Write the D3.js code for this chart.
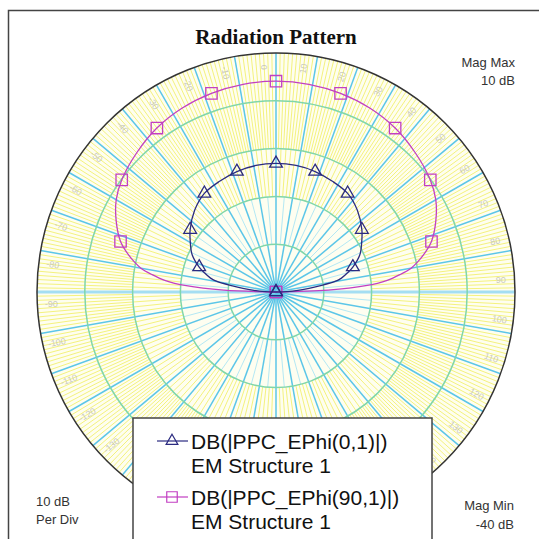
<!DOCTYPE html>
<html>
<head>
<meta charset="utf-8">
<script src="https://cdn.jsdelivr.net/npm/d3@7"></script>
<style>
  html, body { margin: 0; padding: 0; background: #fff; }
  svg { display: block; }
</style>
</head>
<body>
<svg id="chart" width="539" height="539"></svg>
<script>
// Polar radiation pattern, 10 dB per division, -40 dB .. 10 dB
const magMin = -40;
const magMax = 10;
const magStep = 10;

// Sample angles (degrees, 0 = broadside, clockwise positive)
const angles = [-90, -88, -86, -84, -82, -80, -78, -75, -72, -66, -60, -54, -45, -36, -27, -18, -9,
                0, 9, 18, 27, 36, 45, 54, 60, 66, 72, 75, 78, 80, 82, 84, 86, 88, 90];

// DB(|PPC_EPhi(0,1)|)
const ephi0 = [-40, -37.7, -35.4, -33.3, -30.8, -27.6, -26.0, -24.5, -23.1, -20.8, -19.3, -17.8, -15.9, -14.5, -14.0, -13.5, -13.2,
               -13.1, -13.2, -13.5, -14.0, -14.5, -15.9, -17.8, -19.3, -20.8, -23.1, -24.5, -26.0, -27.6, -30.8, -33.3, -35.4, -37.7, -40];

// DB(|PPC_EPhi(90,1)|)
const ephi90 = [-40, -29.1, -21.2, -16.6, -13.8, -11.3, -9.7, -7.6, -5.8, -3.4, -1.4, -0.1, 1.2, 2.4, 3.2, 3.7, 4.0,
                4.1, 4.0, 3.7, 3.2, 2.4, 1.2, -0.1, -1.4, -3.4, -5.8, -7.6, -9.7, -11.3, -13.8, -16.6, -21.2, -29.1, -40];

const markerStep = 18;
const seriesNames = ["DB(|PPC_EPhi(0,1)|)", "DB(|PPC_EPhi(90,1)|)"];
const seriesSource = "EM Structure 1";

const svg = d3.select("#chart");
const W = 539, H = 539;
const cx = 276, cy = 292, R = 239;

const rScale = d3.scaleLinear().domain([magMin, magMax]).range([0, R]);
const rad = d => d * Math.PI / 180;

// outer frame
svg.append("path")
  .attr("d", `M8.5,${H} L8.5,10.5 L${W},10.5`)
  .attr("fill", "none").attr("stroke", "#444").attr("stroke-width", 1.5);

const g = svg.append("g").attr("transform", `translate(${cx},${cy})`);

// face of the polar grid
g.append("circle").attr("r", R).attr("fill", "#fefef0");

// fine radial lines, density per ring
const rings = d3.range(magMin + magStep, magMax + 0.001, magStep);
const ringStep = { "-30": 10, "-20": 5, "-10": 2, "0": 1, "10": 1 };
rings.forEach(m => {
  const step = ringStep[String(m)];
  if (step >= 10) return;
  const r0 = rScale(m - magStep), r1 = rScale(m);
  const angs = d3.range(-180, 180, step).filter(a => a % 10 !== 0);
  const col = step >= 5 ? "#b4e8f4" : "#f4f27e";
  g.append("g").selectAll("line").data(angs).join("line")
    .attr("x1", a => r0 * Math.sin(rad(a))).attr("y1", a => -r0 * Math.cos(rad(a)))
    .attr("x2", a => r1 * Math.sin(rad(a))).attr("y2", a => -r1 * Math.cos(rad(a)))
    .attr("stroke", col).attr("stroke-width", 1);
});

// major radial lines every 10 degrees
const majors = d3.range(-180, 180, 10);
const isAxis = a => a === 90 || a === -90;
g.append("g").selectAll("line").data(majors).join("line")
  .attr("x1", 0).attr("y1", 0)
  .attr("x2", a => R * Math.sin(rad(a))).attr("y2", a => -R * Math.cos(rad(a)))
  .attr("stroke", a => isAxis(a) ? "#a4def2" : "#5cc6e8")
  .attr("stroke-width", a => isAxis(a) ? 3 : 1.5);

// magnitude rings
g.append("g").selectAll("circle").data(rings.filter(m => m < magMax)).join("circle")
  .attr("r", d => rScale(d)).attr("fill", "none")
  .attr("stroke", "#80d6aa").attr("stroke-width", 1.5);
g.append("circle").attr("r", R).attr("fill", "none")
  .attr("stroke", "#333").attr("stroke-width", 1.5);

// angle labels
const labelAngles = d3.range(-170, 181, 10);
g.append("g").selectAll("text").data(labelAngles).join("text")
  .attr("transform", a => {
    const p = rad(a - 3), rr = R - 14;
    const rot = a === 0 ? -90 : (a > 0 ? a - 90 : a + 90);
    return `translate(${rr * Math.sin(p)},${-rr * Math.cos(p)}) rotate(${rot})`;
  })
  .attr("text-anchor", "middle").attr("dominant-baseline", "central")
  .attr("font-family", "Liberation Sans, Arial, sans-serif").attr("font-size", 9)
  .attr("fill", "#cacabf")
  .text(a => a);

// traces
const traces = [
  { values: ephi90, color: "#c23fc2", marker: d3.symbolSquare, size: 130 },
  { values: ephi0, color: "#2b2b80", marker: d3.symbolTriangle, size: 70 }
];
const line = d3.lineRadial()
  .angle(d => rad(d.a)).radius(d => rScale(d.v))
  .curve(d3.curveCatmullRom.alpha(0.5));

traces.forEach(t => {
  const pts = angles.map((a, i) => ({ a, v: Math.max(magMin, t.values[i]) }));
  g.append("path").datum(pts).attr("d", line)
    .attr("fill", "none").attr("stroke", t.color).attr("stroke-width", 1.3);
  g.append("g").selectAll("path")
    .data(pts.filter(d => d.a % markerStep === 0)).join("path")
    .attr("transform", d => {
      const r = rScale(d.v);
      return `translate(${r * Math.sin(rad(d.a))},${-r * Math.cos(rad(d.a))})`;
    })
    .attr("d", d3.symbol(t.marker, t.size))
    .attr("fill", "none").attr("stroke", t.color).attr("stroke-width", 1.3);
});

// title and scale annotations
const font = "Liberation Sans, Arial, sans-serif";
svg.append("text").attr("x", 276).attr("y", 44).attr("text-anchor", "middle")
  .attr("font-family", "Liberation Serif, Times New Roman, serif")
  .attr("font-weight", "bold").attr("font-size", 21).attr("fill", "#111")
  .text("Radiation Pattern");

const note = (x, y, anchor, s) => svg.append("text").attr("x", x).attr("y", y)
  .attr("text-anchor", anchor).attr("font-family", font).attr("font-size", 13)
  .attr("fill", "#333").text(s);
note(515, 67, "end", "Mag Max");
note(515, 85, "end", `${magMax} dB`);
note(36, 506, "start", `${magStep} dB`);
note(36, 524, "start", "Per Div");
note(514, 510, "end", "Mag Min");
note(514, 529, "end", `${magMin} dB`);

// legend
const lg = svg.append("g");
lg.append("rect").attr("x", 133).attr("y", 418).attr("width", 299).attr("height", 140)
  .attr("fill", "#fff").attr("stroke", "#444").attr("stroke-width", 1.5);
const legendItems = [
  { name: seriesNames[0], color: "#2b2b80", marker: d3.symbolTriangle, size: 60, y: 441 },
  { name: seriesNames[1], color: "#c23fc2", marker: d3.symbolSquare, size: 110, y: 497 }
];
legendItems.forEach(it => {
  lg.append("line").attr("x1", 157).attr("x2", 188).attr("y1", it.y).attr("y2", it.y)
    .attr("stroke", it.color).attr("stroke-width", 1.2);
  lg.append("path").attr("transform", `translate(172,${it.y})`)
    .attr("d", d3.symbol(it.marker, it.size))
    .attr("fill", "none").attr("stroke", it.color).attr("stroke-width", 1.2);
  lg.append("text").attr("x", 191).attr("y", it.y + 8)
    .attr("font-family", font).attr("font-size", 21).attr("fill", "#111").text(it.name);
  lg.append("text").attr("x", 191).attr("y", it.y + 32)
    .attr("font-family", font).attr("font-size", 21).attr("fill", "#111").text(seriesSource);
});
</script>
</body>
</html>
